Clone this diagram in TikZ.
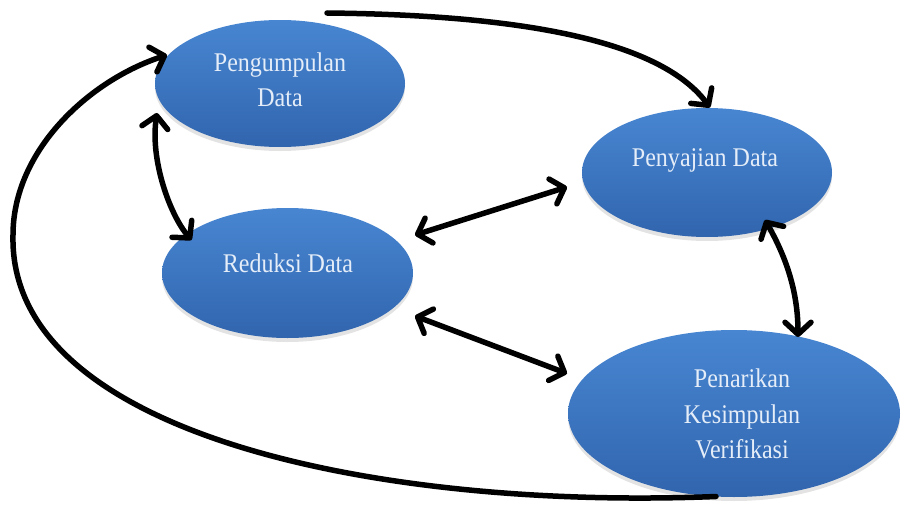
\documentclass[tikz,border=0pt]{standalone}
\usepackage{fontspec}
\setmainfont{Liberation Serif}[FakeStretch=0.89]
\usetikzlibrary{arrows.meta,shapes.geometric,shadows,calc}
\definecolor{etop}{HTML}{4886D2}
\definecolor{emid}{HTML}{3B79C6}
\definecolor{ebot}{HTML}{3165AE}
\definecolor{etext}{HTML}{E4EDF8}
\begin{document}
\begin{tikzpicture}[x=1pt,y=-1pt,
  ell/.style={ellipse, inner sep=0pt, draw=none,
    top color=etop, middle color=emid, bottom color=ebot,
    drop shadow={shadow xshift=0pt, shadow yshift=-4pt, opacity=0.22}},
  lbl/.style={text=etext, font=\fontsize{27}{35.5}\selectfont, align=center, inner sep=0pt},
  con/.style={line width=5.5pt, line cap=round, line join=round,
    >={Straight Barb[length=12pt,width=26pt,round]}}]
\useasboundingbox (0,0) rectangle (903,511);
% ellipses
\node[ell, minimum width=250pt, minimum height=127pt] (A) at (280,83.5) {};
\node[ell, minimum width=250pt, minimum height=129pt] (B) at (707,172.5) {};
\node[ell, minimum width=251pt, minimum height=130pt] (C) at (287.5,273) {};
\node[ell, minimum width=332pt, minimum height=167pt] (D) at (734,413.5) {};
% labels
\node[lbl] (At) at (280,80) {Pengumpulan\\Data};
\node[lbl] (Bt) at (705,160) {Penyajian Data};
\node[lbl] (Ct) at (288,263) {Reduksi Data};
\node[lbl] (Dt) at (742,414) {Penarikan\\Kesimpulan\\Verifikasi};
% connectors
\coordinate (tstart) at (327,13);
\draw[con,->] (tstart) .. controls (520,15) and (660,40) .. ($(B)+(3,-65)$);
\draw[con,->] ($(D)+(-18,83)$) .. controls (380,510) and (8,435) .. (13,235)
   .. controls (13,150) and (90,80) .. ($(A)+(-113,-28.5)$);
\draw[con,<->] ($(A)+(-123,29.5)$) .. controls (150,160) and (170,215) .. ($(C)+(-96,-33)$);
\draw[con,<->] ($(C)+(127.5,-38)$) -- ($(B)+(-140,14.5)$);
\draw[con,<->] ($(C)+(127.5,43)$) -- ($(D)+(-167,-40)$);
\draw[con,<->] ($(B)+(58,47.5)$) .. controls (785,255) and (798,290) .. ($(D)+(64,-76.5)$);
\end{tikzpicture}
\end{document}
